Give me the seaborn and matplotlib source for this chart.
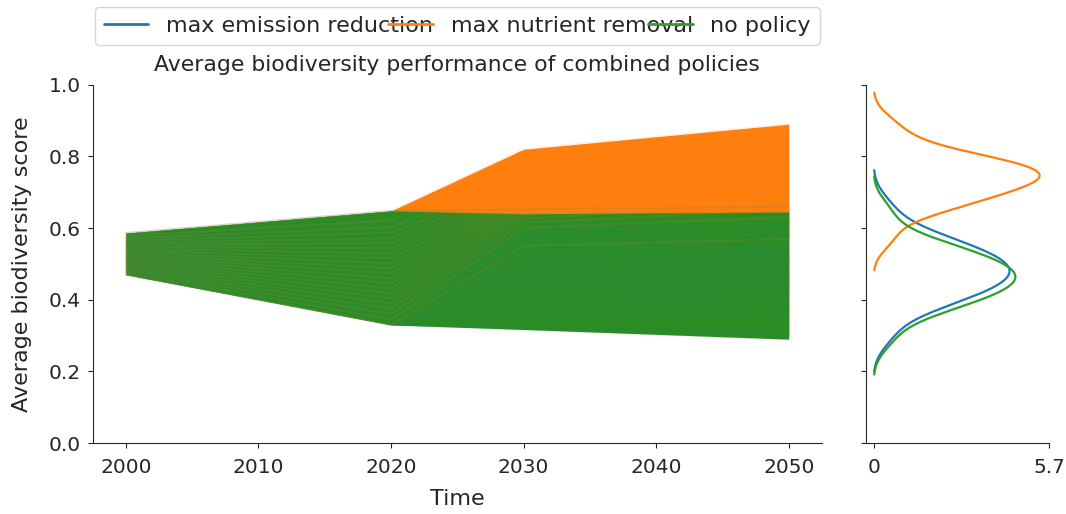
import numpy as np
import pandas as pd
import matplotlib
matplotlib.use("Agg")
import matplotlib.pyplot as plt
from matplotlib.lines import Line2D
import seaborn as sns

# time points of each run (the runs are piecewise between these years)
years = [2000, 2020, 2030, 2050]
policies = ["max emission reduction", "max nutrient removal", "no policy"]

# shared history of every run (policies only act from 2020 on)
start_2000 = [0.470, 0.476, 0.482, 0.487, 0.492, 0.497, 0.502, 0.507, 0.512, 0.517, 0.522,
              0.527, 0.532, 0.537, 0.542, 0.548, 0.553, 0.559, 0.565, 0.571, 0.578, 0.586]
shared_2020 = [0.330, 0.345, 0.360, 0.375, 0.390, 0.404, 0.418, 0.432, 0.446, 0.460, 0.474,
               0.488, 0.502, 0.516, 0.530, 0.544, 0.558, 0.572, 0.587, 0.603, 0.622, 0.648]

emission_2030 = [0.320, 0.350, 0.368, 0.383, 0.398, 0.411, 0.424, 0.437, 0.450, 0.462, 0.474,
                 0.487, 0.499, 0.512, 0.524, 0.537, 0.550, 0.564, 0.578, 0.595, 0.615, 0.652]
emission_2050 = [0.300, 0.360, 0.383, 0.399, 0.413, 0.426, 0.437, 0.447, 0.457, 0.466, 0.475,
                 0.485, 0.494, 0.503, 0.513, 0.523, 0.534, 0.547, 0.561, 0.578, 0.600, 0.660]

nutrient_2030 = [0.550, 0.600, 0.615, 0.627, 0.637, 0.645, 0.653, 0.660, 0.667, 0.673, 0.679,
                 0.685, 0.690, 0.696, 0.702, 0.708, 0.714, 0.721, 0.729, 0.740, 0.770, 0.820]
nutrient_2050 = [0.570, 0.631, 0.652, 0.668, 0.681, 0.692, 0.702, 0.714, 0.722, 0.730, 0.738,
                 0.745, 0.752, 0.759, 0.765, 0.772, 0.780, 0.791, 0.801, 0.814, 0.845, 0.890]

nopolicy_2030 = [0.317, 0.346, 0.364, 0.379, 0.393, 0.407, 0.420, 0.432, 0.445, 0.457, 0.469,
                 0.481, 0.494, 0.506, 0.519, 0.531, 0.544, 0.557, 0.572, 0.588, 0.608, 0.640]
nopolicy_2050 = [0.290, 0.349, 0.371, 0.387, 0.400, 0.412, 0.423, 0.432, 0.442, 0.451, 0.460,
                 0.468, 0.477, 0.486, 0.496, 0.505, 0.516, 0.528, 0.541, 0.557, 0.579, 0.645]

runs = {
    "max emission reduction": (emission_2030, emission_2050),
    "max nutrient removal": (nutrient_2030, nutrient_2050),
    "no policy": (nopolicy_2030, nopolicy_2050),
}

rows = []
for policy, (v30, v50) in runs.items():
    for i in range(len(start_2000)):
        vals = [start_2000[i], shared_2020[i], v30[i], v50[i]]
        for year, val in zip(years, vals):
            rows.append({"policy": policy, "run": i, "time": year, "score": val})
df = pd.DataFrame(rows)

sns.set_style("ticks")
plt.rcParams["font.family"] = ["DejaVu Sans"]
plt.rcParams["axes.labelsize"] = 16
plt.rcParams["axes.titlesize"] = 15.75
plt.rcParams["xtick.labelsize"] = 14.5
plt.rcParams["ytick.labelsize"] = 14.5
plt.rcParams["xtick.major.pad"] = 7
plt.rcParams["ytick.major.pad"] = 5
plt.rcParams["legend.fontsize"] = 16
palette = dict(zip(policies, sns.color_palette("tab10", 3)))
# the dense bundles read a bit darker than the single lines
fill_colors = {"max emission reduction": palette["max emission reduction"],
               "max nutrient removal": palette["max nutrient removal"],
               "no policy": "#2b8c24"}

fig = plt.figure(figsize=(10.66, 5.14), dpi=100)
ax = fig.add_axes([0.087, 0.138, 0.684, 0.697])
ax_kde = fig.add_axes([0.812, 0.138, 0.172, 0.697], sharey=ax)

for policy in policies:
    sub = df[df.policy == policy]
    wide = sub.pivot(index="time", columns="run", values="score")
    # solid body of the bundle, single runs on top give the streaks
    ax.fill_between(wide.index, wide.min(axis=1), wide.max(axis=1),
                    color=fill_colors[policy], alpha=1.0, lw=0)
    sns.lineplot(data=sub, x="time", y="score", units="run", estimator=None,
                 color=palette[policy], alpha=0.12, lw=1.5, ax=ax, legend=False)
    sns.kdeplot(y=wide.loc[2050].values, ax=ax_kde, color=palette[policy],
                cut=2.5, bw_adjust=0.9, lw=1.6)

ax.set_ylim(0, 1)
ax.set_yticks(np.arange(0, 1.01, 0.2))
ax.set_xticks(range(2000, 2051, 10))
ax.set_xlabel("Time", labelpad=9)
ax.set_ylabel("Average biodiversity score", labelpad=12)
ax.set_title("Average biodiversity performance of combined policies", pad=10)

handles = [Line2D([], [], color=palette[p], lw=2) for p in policies]
ax.legend(handles, policies, loc="lower left", bbox_to_anchor=(0.003, 1.112, 0.994, 0.1),
          mode="expand", ncol=3, borderaxespad=0)

ax_kde.set_xlim(-0.26, 5.7)
ax_kde.set_xticks([0, 5.7])
ax_kde.set_xticklabels(["0", "5.7"])
ax_kde.set_xlabel("")
ax_kde.set_ylabel("")
ax_kde.tick_params(labelleft=False)

sns.despine(fig=fig)
fig.savefig("out.png", dpi=100)
